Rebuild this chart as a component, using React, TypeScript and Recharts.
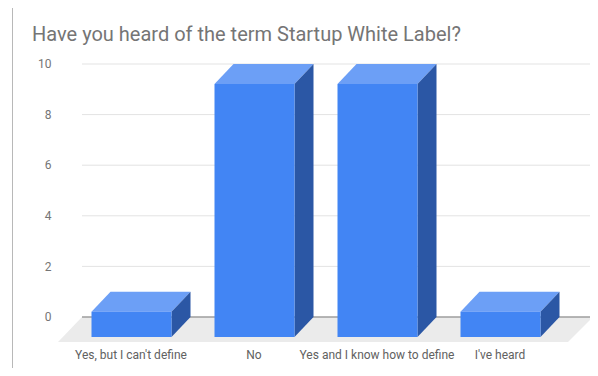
import React from "react";
import { BarChart, Bar, XAxis, YAxis, CartesianGrid } from "recharts";

const categories = ["Yes, but I can't define", "No", "Yes and I know how to define", "I've heard"];
const counts = [1, 10, 10, 1];
const yTicks = [0, 2, 4, 6, 8, 10];
const title = "Have you heard of the term Startup White Label?";

const data = categories.map((c, i) => ({ name: c, value: counts[i] }));

const FRONT = "#4285f4";
const TOP = "#6c9ff6";
const SIDE = "#2b57a5";
const DX = 19; // bar depth offset
const DY = 20;
const FLOOR_D = 25;

const Box3D = (props: any) => {
  const { x, y, width, height } = props;
  if (width == null || height == null) return null;
  const fx = x - DX;
  const fy = y + DY;
  return (
    <g>
      <polygon
        points={`${fx},${fy} ${fx + width},${fy} ${x + width},${y} ${x},${y}`}
        fill={TOP}
      />
      <polygon
        points={`${fx + width},${fy} ${x + width},${y} ${x + width},${y + height} ${fx + width},${fy + height}`}
        fill={SIDE}
      />
      <rect x={fx} y={fy} width={width} height={height} fill={FRONT} />
    </g>
  );
};

const GridLine = (p: any) => {
  const { x1, x2, y1 } = p;
  const left = x1 - 6.5;
  const right = x2 + 12.5;
  const bottom = p.y != null && p.height != null ? p.y + p.height : null;
  const isZero = bottom != null ? Math.abs(y1 - bottom) < 0.5 : p.index === 0;
  if (isZero) {
    return (
      <g key={p.key}>
        <polygon
          points={`${left},${y1} ${right},${y1} ${right - FLOOR_D},${y1 + FLOOR_D} ${left - FLOOR_D + 1},${y1 + FLOOR_D}`}
          fill="#ebebeb"
        />
        <line x1={left} x2={right} y1={y1} y2={y1} stroke="#9e9e9e" strokeWidth={1.5} />
      </g>
    );
  }
  return <line key={p.key} x1={left} x2={right} y1={y1} y2={y1} stroke="#e3e3e3" strokeWidth={1} />;
};

const XTick = (props: any) => {
  const { x, y, payload } = props;
  return (
    <text
      x={x - DX}
      y={y + 42}
      textAnchor="middle"
      fill="#616161"
      fontSize={12}
      fontFamily="Roboto"
    >
      {payload.value}
    </text>
  );
};

export default function App() {
  return (
    <div
      style={{
        position: "relative",
        width: 598,
        height: 376,
        margin: -8,
        overflow: "hidden",
        background: "#fff",
        fontFamily: "Roboto",
      }}
    >
      <div
        style={{
          position: "absolute",
          left: 12,
          top: 7,
          right: -10,
          bottom: -10,
          borderTop: "1px solid #b8b8b8",
          borderLeft: "1px solid #b8b8b8",
        }}
      />
      <div
        style={{
          position: "absolute",
          left: 32,
          top: 22,
          fontSize: 20,
          lineHeight: "24px",
          color: "#757575",
          fontFamily: "Roboto",
          whiteSpace: "nowrap",
        }}
      >
        {title}
      </div>
      <div style={{ position: "absolute", left: 0, top: 0 }}>
        <BarChart
          width={598}
          height={376}
          data={data}
          margin={{ top: 64, right: 17.5, bottom: 0, left: 0 }}
        >
          <CartesianGrid vertical={false} horizontal={GridLine as any} />
          <XAxis
            dataKey="name"
            axisLine={false}
            tickLine={false}
            tickSize={0}
            tickMargin={0}
            height={59}
            interval={0}
            tick={<XTick />}
          />
          <YAxis
            domain={[0, 10]}
            ticks={yTicks}
            axisLine={false}
            tickLine={false}
            tickSize={0}
            tickMargin={37}
            width={88.5}
            tick={{ fill: "#757575", fontSize: 12, fontFamily: "Roboto" }}
          />
          <Bar dataKey="value" barSize={80} shape={<Box3D />} isAnimationActive={false} />
        </BarChart>
      </div>
    </div>
  );
}
